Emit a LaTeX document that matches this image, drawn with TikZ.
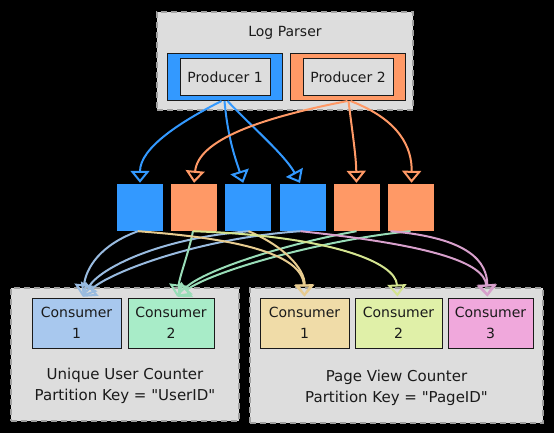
\documentclass[tikz,border=0pt]{standalone}
\usepackage{fontspec}
\setmainfont{DejaVu Sans}[Ligatures=TeXOff]
\usetikzlibrary{arrows.meta}
\definecolor{pblue}{HTML}{3399FF}
\definecolor{porange}{HTML}{FF9966}
\definecolor{boxgray}{HTML}{DDDDDD}
\definecolor{dashgray}{HTML}{A0A0A0}
\definecolor{inkc}{HTML}{1A1A1A}
\definecolor{cblue}{HTML}{A8C8EE}
\definecolor{cgreen}{HTML}{A8ECC8}
\definecolor{ctan}{HTML}{F0DCA8}
\definecolor{cyg}{HTML}{E0F0A8}
\definecolor{cpink}{HTML}{F0A8DC}
\definecolor{lblue}{HTML}{99BBE0}
\definecolor{lgreen}{HTML}{99DDB8}
\definecolor{ltan}{HTML}{E8CC90}
\definecolor{lyg}{HTML}{D4E490}
\definecolor{lpink}{HTML}{D8A0CC}
\begin{document}
\begin{tikzpicture}[x=1pt,y=-1pt,
  txt/.style={font=\fontsize{14}{21}\selectfont, text=inkc, align=center, inner sep=0pt},
  bigtxt/.style={txt, font=\fontsize{15}{21}\selectfont},
  group/.style={fill=boxgray, draw=dashgray, line width=1.2pt, dash pattern=on 6pt off 4pt, inner sep=0pt},
  prodout/.style={draw=inkc, line width=1pt, inner sep=0pt, minimum width=115pt, minimum height=47pt},
  prodin/.style={txt, fill=boxgray, draw=inkc, line width=1pt, minimum width=90pt, minimum height=37pt},
  part/.style={inner sep=0pt, minimum width=46pt, minimum height=47pt},
  cons/.style={txt, draw=inkc, line width=1pt, minimum height=50pt},
  conn/.style={line width=2pt, -{Triangle[open, length=12pt, width=19pt, line width=2pt]}, shorten >=1pt}
]
\useasboundingbox[fill=black] (0,0) rectangle (554,433);

% Log parser group
\node[group, minimum width=256pt, minimum height=98pt] (lp) at (285,61) {};
\node[txt] (lpt) at (285,33) {Log Parser};
\node[prodout, fill=pblue] (p1o) at (224.5,77) {};
\node[prodin] (p1) at (225,77.5) {Producer 1};
\node[prodout, fill=porange] (p2o) at (347.5,77) {};
\node[prodin] (p2) at (348,77.5) {Producer 2};

% partitions
\node[part, fill=pblue]   (s1) at (140,207.5) {};
\node[part, fill=porange] (s2) at (194,207.5) {};
\node[part, fill=pblue]   (s3) at (247.5,207.5) {};
\node[part, fill=pblue]   (s4) at (302.5,207.5) {};
\node[part, fill=porange] (s5) at (356.5,207.5) {};
\node[part, fill=porange] (s6) at (410.5,207.5) {};

% producer -> partitions
\draw[conn, pblue] ([xshift=-3pt]p1o.south) .. controls (180,122) and (140,148) .. (s1.north);
\draw[conn, pblue] ([xshift=0pt]p1o.south) .. controls (228,140) and (236,160) .. ([xshift=-4pt]s3.north);
\draw[conn, pblue] ([xshift=3pt]p1o.south) .. controls (250,125) and (285,155) .. ([xshift=-2pt]s4.north);
\draw[conn, porange] ([xshift=0pt]p2o.south) .. controls (260,118) and (198,140) .. (s2.north);
\draw[conn, porange] ([xshift=1pt]p2o.south) .. controls (352,130) and (356,155) .. (s5.north);
\draw[conn, porange] ([xshift=3pt]p2o.south) .. controls (400,120) and (412,148) .. ([xshift=1pt]s6.north);

% consumer groups
\node[group, minimum width=228pt, minimum height=133pt] (g1) at (125,354.5) {};
\node[group, minimum width=293pt, minimum height=135pt] (g2) at (396.5,355.5) {};

\node[cons, fill=cblue, minimum width=89pt]  (lc1) at (76.5,323) {Consumer\\1};
\node[cons, fill=cgreen, minimum width=86pt] (lc2) at (171,323) {Consumer\\2};
\node[cons, fill=ctan, minimum width=89pt]   (rc1) at (304.5,323) {Consumer\\1};
\node[cons, fill=cyg, minimum width=87pt]    (rc2) at (398.5,323) {Consumer\\2};
\node[cons, fill=cpink, minimum width=85pt]  (rc3) at (490.5,323) {Consumer\\3};

\node[bigtxt] (g1t) at (125,386) {Unique User Counter\\Partition Key = "UserID"};
\node[bigtxt] (g2t) at (396.5,388) {Page View Counter\\Partition Key = "PageID"};

% partitions -> consumers
\draw[conn, lblue] ([xshift=-2pt]s1.south) .. controls (100,245) and (86,268) .. ([xshift=6pt]lc1.north);
\draw[conn, lblue] ([xshift=2pt]s3.south) .. controls (160,238) and (100,268) .. ([xshift=6pt]lc1.north);
\draw[conn, lblue] ([xshift=-2pt]s4.south) .. controls (200,238) and (110,272) .. ([xshift=6pt]lc1.north);
\draw[conn, lgreen] ([xshift=-1pt]s2.south) .. controls (188,255) and (180,275) .. ([xshift=6pt]lc2.north);
\draw[conn, lgreen] ([xshift=0pt]s5.south) .. controls (280,245) and (200,272) .. ([xshift=6pt]lc2.north);
\draw[conn, lgreen] ([xshift=0pt]s6.south) .. controls (320,240) and (210,272) .. ([xshift=6pt]lc2.north);
\draw[conn, ltan] ([xshift=-2pt]s1.south) .. controls (230,238) and (302,252) .. (rc1.north);
\draw[conn, ltan] ([xshift=1pt]s3.south) .. controls (282,245) and (305,268) .. (rc1.north);
\draw[conn, lyg] ([xshift=-1pt]s2.south) .. controls (330,236) and (396,262) .. ([xshift=-1pt]rc2.north);
\draw[conn, lpink] ([xshift=-2pt]s4.south) .. controls (430,245) and (484,262) .. ([xshift=-3pt]rc3.north);
\draw[conn, lpink] ([xshift=-20pt]s6.south) .. controls (470,238) and (487,262) .. ([xshift=-3pt]rc3.north);
\end{tikzpicture}
\end{document}
